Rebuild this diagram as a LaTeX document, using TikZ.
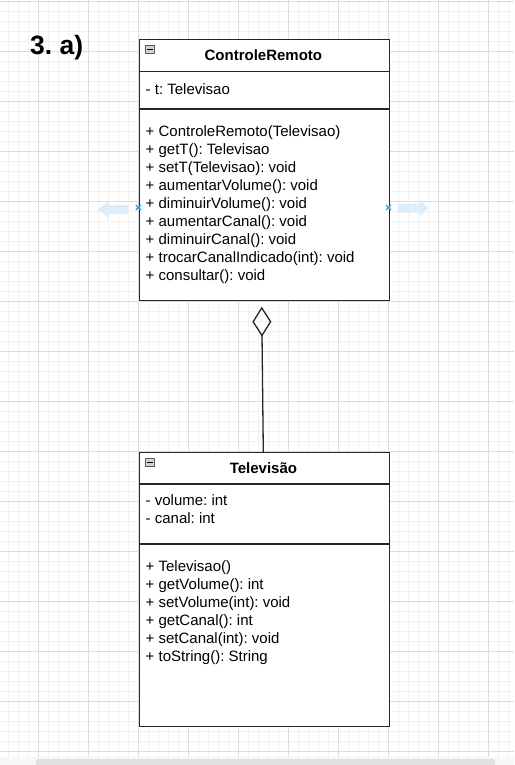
\documentclass[tikz,border=0pt]{standalone}
\usepackage{fontspec}
\setmainfont{Liberation Sans}
\usetikzlibrary{arrows.meta,shapes.geometric,calc}
\definecolor{gridmajor}{HTML}{DCDCDC}
\definecolor{gridminor}{HTML}{F1F1F1}
\definecolor{boxline}{HTML}{262626}
\definecolor{hintblue}{HTML}{DCEEFB}
\definecolor{markblue}{HTML}{2FA3E6}
\definecolor{iconfill}{HTML}{D4D4D4}
\tikzset{
  classbox/.style={draw=boxline,line width=1.4pt,fill=white,minimum width=250pt,inner sep=0pt,anchor=north west},
  divider/.style={draw=boxline,line width=1.4pt},
  member/.style={anchor=base west,inner sep=0pt,font=\fontsize{15}{18}\selectfont},
  title/.style={anchor=base,inner sep=0pt,font=\bfseries\fontsize{15}{18}\selectfont},
  hint/.style={fill=hintblue,draw=none},
  xmark/.style={draw=markblue,line width=1.4pt},
  icon/.style={draw=gray!70!black,fill=iconfill,line width=0.5pt,minimum width=9pt,minimum height=8pt,inner sep=0pt},
}
\frenchspacing
\begin{document}
\begin{tikzpicture}[x=1pt,y=-1pt]
\useasboundingbox (0,0) rectangle (514,765);
\fill[white] (0,0) rectangle (514,757);
\fill[black!3] (0,757) rectangle (514,765);
\fill[black!12,rounded corners=1.5pt] (36,759) rectangle (495,766);
% grid
\foreach \gx in {8.3,18.3,...,514}{\draw[gridminor,line width=0.6pt] (\gx,0) -- (\gx,757);}
\foreach \gy in {1.7,11.7,...,757}{\draw[gridminor,line width=0.6pt] (0,\gy) -- (514,\gy);}
\foreach \gx in {38.3,88.3,...,514}{\draw[gridmajor,line width=0.8pt] (\gx,0) -- (\gx,757);}
\foreach \gy in {1.7,51.7,...,757}{\draw[gridmajor,line width=0.8pt] (0,\gy) -- (514,\gy);}

\node[anchor=base west,inner sep=0pt,font=\bfseries\fontsize{26.5}{30}\selectfont] (lbl) at (30,55) {3. a)};

% ControleRemoto
\node[classbox,minimum height=261pt] (cr) at (138.5,39) {};
\draw[divider] (138.5,71.5) -- (388.5,71.5);
\draw[divider] (138.5,109) -- (388.5,109);
\node[icon] (cricon) at (150,49.5) {};
\draw[black,line width=0.9pt] ($(cricon.west)+(2pt,0)$) -- ($(cricon.east)+(-2pt,0)$);
\node[title] (crt) at (263.4,61) {ControleRemoto};
\node[member] (cra) at (145.5,94.3) {- t: Televisao};
\foreach \i/\t in {0/+ ControleRemoto(Televisao),1/+ getT(): Televisao,2/+ setT(Televisao): void,3/+ aumentarVolume(): void,4/+ diminuirVolume(): void,5/+ aumentarCanal(): void,6/+ diminuirCanal(): void,7/+ trocarCanalIndicado(int): void,8/+ consultar(): void}{
  \node[member] (crm\i) at (145.5,136+18*\i) {\t};
}

% Televisao
\node[classbox,minimum height=274pt] (tv) at (138.5,452) {};
\draw[divider] (138.5,484) -- (388.5,484);
\draw[divider] (138.5,544) -- (388.5,544);
\node[icon] (tvicon) at (150,462) {};
\draw[black,line width=0.9pt] ($(tvicon.west)+(2pt,0)$) -- ($(tvicon.east)+(-2pt,0)$);
\node[title] (tvt) at (263.4,473.3) {Televisão};
\node[member] (tva0) at (145.5,505.7) {- volume: int};
\node[member] (tva1) at (145.5,523.5) {- canal: int};
\foreach \i/\t in {0/+ Televisao(),1/+ getVolume(): int,2/+ setVolume(int): void,3/+ getCanal(): int,4/+ setCanal(int): void,5/+ toString(): String}{
  \node[member] (tvm\i) at (145.5,571+18*\i) {\t};
}

% aggregation
\coordinate (dtop) at (261.7,306.7);
\coordinate (tvtop) at (263.3,452);
\draw[boxline,line width=1.3pt,-{Diamond[open,length=30pt,width=19pt,line width=1.3pt]}] (tvtop) -- (dtop);

% hover hints
\fill[hint] (98,209.5) -- (108,201.5) -- (108,205) -- (128,205) -- (128,214) -- (108,214) -- (108,217.5) -- cycle;
\fill[hint] (428,208) -- (420,199.5) -- (420,203.5) -- (398,203.5) -- (398,212.5) -- (420,212.5) -- (420,216.5) -- cycle;
\coordinate (xl) at (138.3,207.5);
\coordinate (xr) at (388.5,207.5);
\draw[xmark] ($(xl)+(-2.5,-2.5)$) -- ($(xl)+(2.5,2.5)$) ($(xl)+(-2.5,2.5)$) -- ($(xl)+(2.5,-2.5)$);
\draw[xmark] ($(xr)+(-2.5,-2.5)$) -- ($(xr)+(2.5,2.5)$) ($(xr)+(-2.5,2.5)$) -- ($(xr)+(2.5,-2.5)$);
\end{tikzpicture}
\end{document}
